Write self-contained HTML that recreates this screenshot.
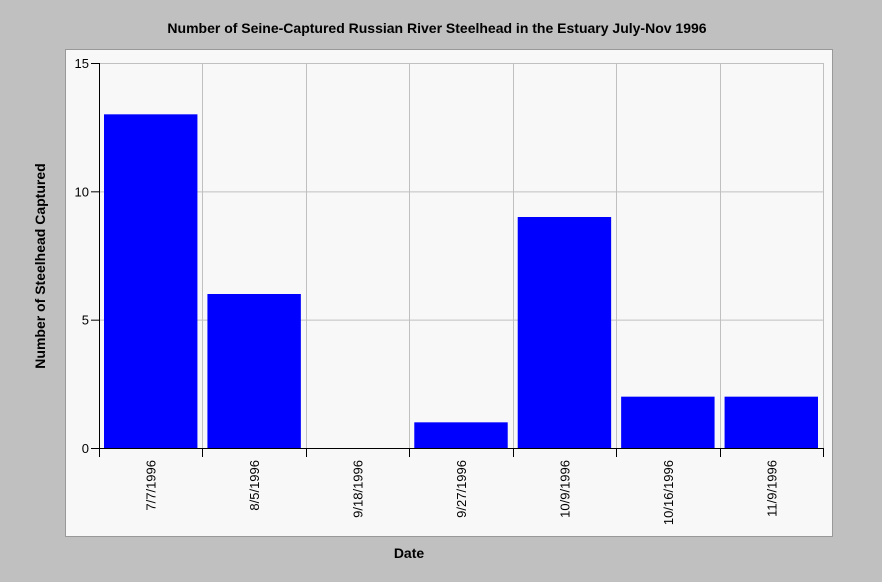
<!DOCTYPE html>
<html><head><meta charset="utf-8"><style>
html,body{margin:0;padding:0;background:#c0c0c0;}
svg{display:block;font-family:"Liberation Sans",sans-serif;}
</style></head><body>
<svg width="882" height="582">
<rect x="0" y="0" width="882" height="582" fill="#c0c0c0"/>
<text x="437" y="33" text-anchor="middle" font-size="14" font-weight="bold">Number of Seine-Captured Russian River Steelhead in the Estuary July-Nov 1996</text>
<rect x="65.5" y="49.5" width="767" height="487" fill="#f8f8f8" stroke="#999"/>
<g id="grid"></g>
<g id="bars"></g>
<g id="axes"></g>
<text transform="translate(45,266) rotate(-90)" text-anchor="middle" font-size="14" font-weight="bold">Number of Steelhead Captured</text>
<text x="409" y="558" text-anchor="middle" font-size="14" font-weight="bold">Date</text>
</svg>
<script>
const categories=["7/7/1996","8/5/1996","9/18/1996","9/27/1996","10/9/1996","10/16/1996","11/9/1996"];
const values=[13,6,0,1,9,2,2];
const yTicks=[0,5,10,15];
const NS="http://www.w3.org/2000/svg";
const L=99,R=823,T=63,B=448,yMax=15;
const y=v=>B-(B-T)*v/yMax;
const bw=(R-L)/categories.length;
const x=i=>L+bw*i;
function mk(p,tag,a){const e=document.createElementNS(NS,tag);for(const k in a)e.setAttribute(k,a[k]);p.appendChild(e);return e;}
const grid=document.getElementById('grid'),bars=document.getElementById('bars'),axes=document.getElementById('axes');
yTicks.forEach(t=>{
  const g=mk(grid,'line',{x1:L,x2:R,y1:y(t)+0.5,y2:y(t)+0.5,stroke:'#c0c0c0'});
  
  
  const tk=mk(axes,'line',{x1:L-8,x2:L,y1:y(t)+0.5,y2:y(t)+0.5,stroke:'#000'});
  
  
  const tx=mk(axes,'text',{x:L-10,y:y(t)+5,'text-anchor':'end','font-size':'13'});
  tx.textContent=t;
  
  
});
for(let i=1;i<=categories.length;i++){
  const g=mk(grid,'line',{x1:Math.round(x(i))+0.5,x2:Math.round(x(i))+0.5,y1:T,y2:B,stroke:'#c0c0c0'});
  
  
}
categories.forEach((c,i)=>{
  const h=B-y(values[i]);
  const r=mk(bars,'rect',{x:x(i)+5,y:y(values[i]),width:bw-10,height:h,fill:'#0000ff'});
  
  
  const tx=mk(axes,'text',{transform:`translate(${x(i)+bw/2+5},460) rotate(-90)`,'text-anchor':'end','font-size':'13'});
  tx.textContent=c;
  
  
});
for(let i=0;i<=categories.length;i++){
  const tk=mk(axes,'line',{x1:Math.round(x(i))+0.5,x2:Math.round(x(i))+0.5,y1:B,y2:B+9,stroke:'#000'});
  
  
}
const ya=mk(axes,'line',{x1:L+0.5,x2:L+0.5,y1:T,y2:B+1,stroke:'#000'});


const xa=mk(axes,'line',{x1:L,x2:R+1,y1:B+0.5,y2:B+0.5,stroke:'#000'});


</script>
</body></html>
